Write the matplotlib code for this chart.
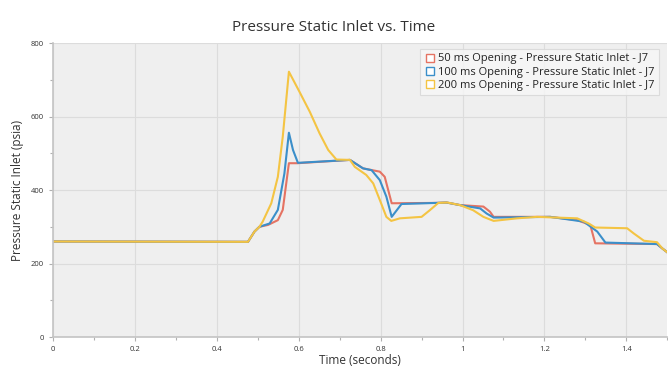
import matplotlib
matplotlib.use("Agg")
import matplotlib.pyplot as plt
from matplotlib.lines import Line2D
from matplotlib.ticker import MultipleLocator, FuncFormatter

plt.rcParams['font.family'] = ['Open Sans', 'DejaVu Sans']

# values
t_50 = [0, 0.476, 0.492, 0.504, 0.525, 0.549, 0.561, 0.576, 0.597, 0.725, 0.757, 0.798,
        0.81, 0.827, 0.937, 0.961, 0.994, 1.051, 1.067, 1.076, 1.214, 1.28, 1.312, 1.324,
        1.475, 1.488, 1.503]
p_50 = [260, 259, 287, 300, 305, 318, 346, 473, 473, 482, 459, 450,
        436, 364, 365, 366, 359, 355, 341, 327, 327, 318, 305, 255,
        253, 241, 228]

t_100 = [0, 0.476, 0.492, 0.504, 0.529, 0.549, 0.565, 0.576, 0.586, 0.598, 0.725, 0.757,
         0.778, 0.798, 0.814, 0.827, 0.851, 0.937, 0.961, 0.994, 1.043, 1.059, 1.076,
         1.214, 1.296, 1.329, 1.349, 1.475, 1.488, 1.503]
p_100 = [260, 259, 287, 300, 309, 346, 445, 556, 509, 474, 482, 459,
         454, 427, 382, 327, 362, 365, 366, 359, 350, 336, 325,
         327, 314, 287, 257, 253, 241, 228]

t_200 = [0, 0.476, 0.492, 0.504, 0.512, 0.533, 0.549, 0.561, 0.576, 0.602, 0.627, 0.651,
         0.672, 0.692, 0.725, 0.737, 0.765, 0.782, 0.798, 0.814, 0.826, 0.847, 0.9, 0.92,
         0.941, 0.963, 0.994, 1.026, 1.051, 1.076, 1.133, 1.182, 1.28, 1.308, 1.324,
         1.402, 1.418, 1.443, 1.475, 1.488, 1.503]
p_200 = [260, 259, 287, 300, 314, 364, 436, 545, 722, 667, 613, 554,
         509, 483, 482, 463, 441, 418, 373, 327, 316, 323, 327, 345,
         365, 366, 359, 345, 327, 316, 323, 327, 323, 309, 298,
         296, 282, 262, 258, 241, 228]

labels = ["50 ms Opening - Pressure Static Inlet - J7",
          "100 ms Opening - Pressure Static Inlet - J7",
          "200 ms Opening - Pressure Static Inlet - J7"]
colors = ["#e57363", "#3b8fca", "#f4c443"]

fig = plt.figure(figsize=(6.68, 3.68), dpi=100)
ax = fig.add_axes([0.0794, 0.0842, 0.9195, 0.7988])
ax.set_facecolor("#efefef")

for t, p, c in zip([t_50, t_100, t_200], [p_50, p_100, p_200], colors):
    ax.plot(t, p, color=c, lw=1.5)

ax.set_xlim(0, 1.5)
ax.set_ylim(0, 800)
ax.xaxis.set_major_locator(MultipleLocator(0.2))
ax.xaxis.set_minor_locator(MultipleLocator(0.1))
ax.yaxis.set_major_locator(MultipleLocator(200))
ax.yaxis.set_minor_locator(MultipleLocator(100))
ax.xaxis.set_major_formatter(FuncFormatter(lambda v, pos: "%g" % round(v, 1)))
ax.grid(True, which="major", color="#dcdcdc", lw=0.8)
ax.set_axisbelow(True)
for s in ["top", "right"]:
    ax.spines[s].set_visible(False)
for s in ["left", "bottom"]:
    ax.spines[s].set_color("#c4c4c4")
    ax.spines[s].set_linewidth(1.2)
ax.tick_params(which="both", colors="#b0b0b0", labelcolor="#333333", labelsize=5.5,
               length=3, width=0.8)
ax.tick_params(which="minor", length=2)

fig.suptitle("Pressure Static Inlet vs. Time", x=0.5, y=0.945, fontsize=11, color="#333333")
ax.set_xlabel("Time (seconds)", fontsize=8.5, color="#333333", va="center")
ax.set_ylabel("Pressure Static Inlet (psia)", fontsize=8.5, color="#333333", va="center")
ax.xaxis.set_label_coords(0.5, -0.08)
ax.yaxis.set_label_coords(-0.058, 0.5)

handles = [Line2D([], [], ls="none", marker="s", markersize=6, markerfacecolor="white",
                  markeredgecolor=c, markeredgewidth=1.0) for c in colors]
leg = ax.legend(handles, labels, loc="upper right", fontsize=8, frameon=True,
                fancybox=False, handletextpad=0.2, handlelength=1.0,
                borderaxespad=0.4, labelspacing=0.2, bbox_to_anchor=(0.993, 0.995))
leg.get_frame().set_edgecolor("#d6d6d6")
leg.get_frame().set_facecolor("#f7f7f7")
leg.get_frame().set_linewidth(0.8)
for txt in leg.get_texts():
    txt.set_color("#222222")

fig.savefig("out.png", dpi=100)
